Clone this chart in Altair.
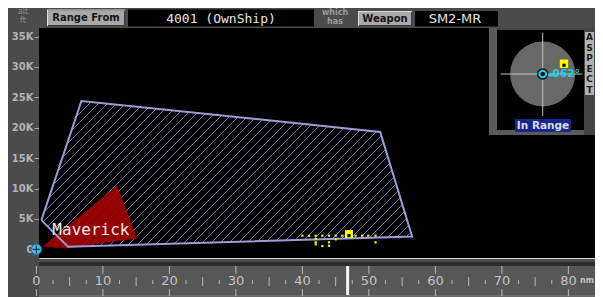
import altair as alt
import pandas as pd

# ---------------- data ----------------
env_nm = [0.75, 6.77, 51.7, 56.5, 4.75]          # launch envelope (nm)
env_alt = [4.8, 24.4, 19.3, 2.1, 0.43]           # launch envelope (K ft)

mav_nm = [1.0, 12.1, 15.1, 4.5]                  # Maverick envelope
mav_alt = [0.46, 10.4, 1.83, 0.2]
mav_label = ["Maverick"]
mav_label_nm = [2.4]
mav_label_alt = [2.35]

track_nm = [40.0, 41.0, 42.0, 43.0, 44.0, 45.0, 46.0, 48.0, 49.0, 49.9, 51.0,
            42.0, 42.0, 42.0, 43.0, 44.0, 44.0, 45.0, 51.0]
track_alt = [2.24, 2.24, 2.24, 2.24, 2.24, 2.24, 2.24, 2.24, 2.24, 2.24, 2.24,
             1.69, 1.15, 0.82, 0.54, 1.15, 0.59, 1.64, 1.15]
target_nm = [47.0]
target_alt = [2.5]
ownship_nm = [0.0]
ownship_alt = [0.0]
range_cursor_nm = [46.8]

y_ticks = [0, 5, 10, 15, 20, 25, 30, 35]
x_major = [0, 10, 20, 30, 40, 50, 60, 70, 80]
x_major_labels = ["0", "10", "20", "30", "40", "50", "60", "70", "80"]
x_mid = [5, 15, 25, 35, 45, 55, 65, 75]
x_minor = [2.5, 7.5, 12.5, 17.5, 22.5, 27.5, 32.5, 37.5, 42.5, 47.5,
           52.5, 57.5, 62.5, 67.5, 72.5, 77.5]

aspect_label = ["062°"]
inset_target_dx = [0.58]
inset_target_dy = [0.28]

range_from = "4001 (OwnShip)"
weapon = "SM2-MR"

# ---------------- layout ----------------
PL, PT = 39, 28          # page position of plot origin
W, H = 556, 230          # canvas ends at page x 595 (no horizontal overflow)
XD = [0.39, 84.0]
YD = [-1.43, 36.4]
RIGHT = PL + W

xs = alt.Scale(domain=XD, zero=False, nice=False)
ys = alt.Scale(domain=YD, zero=False, nice=False)

one = pd.DataFrame({"k": [0]})


def box(x1, y1, x2, y2, fill, **kw):
    return alt.Chart(one).mark_rect(fill=fill, strokeWidth=0, **kw).encode(
        x=alt.value(x1 - PL), x2=alt.value(x2 - PL),
        y=alt.value(y1 - PT), y2=alt.value(y2 - PT))


def txt(s, x, y, size, color, weight="normal", font="DejaVu Sans", align="center"):
    return alt.Chart(one).mark_text(
        text=s, fontSize=size, color=color, fontWeight=weight, font=font,
        align=align, baseline="middle").encode(x=alt.value(x - PL), y=alt.value(y - PT))


def button(x1, y1, x2, y2, label):
    return [box(x1, y1, x2, y2, "#dcdcdc"),
            box(x1 + 1, y1 + 1, x2, y2, "#3a3a3a"),
            box(x1 + 1, y1 + 1, x2 - 1, y2 - 1, "#a9a9a9"),
            txt(label, (x1 + x2) / 2, (y1 + y2) / 2 + 0.5, 10, "#151515", "bold")]


# pixel helpers for hatch geometry
def to_px(nm, a):
    return ((nm - XD[0]) * W / (XD[1] - XD[0]), (YD[1] - a) * H / (YD[1] - YD[0]))


def to_data(px, py):
    return (XD[0] + px * (XD[1] - XD[0]) / W, YD[1] - py * (YD[1] - YD[0]) / H)


poly_px = [to_px(n, a) for n, a in zip(env_nm, env_alt)]
sums = [p[0] + p[1] for p in poly_px]
hatch_rows = []
c = (int(min(sums) // 9) + 1) * 9
seg = 0
while c < max(sums):
    pts = []
    for i in range(len(poly_px)):
        p1 = poly_px[i]
        p2 = poly_px[(i + 1) % len(poly_px)]
        f1 = p1[0] + p1[1] - c
        f2 = p2[0] + p2[1] - c
        if f1 * f2 < 0:
            t = f1 / (f1 - f2)
            pts.append((p1[0] + t * (p2[0] - p1[0]), p1[1] + t * (p2[1] - p1[1])))
    if len(pts) == 2:
        for j, p in enumerate(pts):
            n, a = to_data(*p)
            hatch_rows.append({"nm": n, "alt": a, "seg": seg, "o": j})
        seg += 1
    c += 9
hatch_df = pd.DataFrame(hatch_rows)

env_df = pd.DataFrame({"nm": env_nm + env_nm[:1], "alt": env_alt + env_alt[:1],
                       "i": list(range(len(env_nm) + 1))})
mav_df = pd.DataFrame({"nm": mav_nm + mav_nm[:1], "alt": mav_alt + mav_alt[:1],
                       "i": list(range(len(mav_nm) + 1))})

X = alt.X("nm:Q", scale=xs, axis=None)
Y = alt.Y("alt:Q", scale=ys, axis=alt.Axis(
    values=y_ticks, title=None, grid=False,
    labelExpr="datum.value == 0 ? '0' : datum.value + 'K'",
    labelFont="DejaVu Sans", labelFontWeight="bold", labelFontSize=10,
    labelColor="#b4b4b4", labelPadding=1, tickColor="#a8a8a8", tickSize=5,
    domainColor="#8a8a8a", domainDash=[1, 2], domainWidth=1, labelOverlap=False))

layers = [box(PL, PT, RIGHT, PT + H, "#000000")]
layers.append(alt.Chart(hatch_df).mark_line(color="#7676b0", strokeWidth=1).encode(
    x=X, y=Y, detail="seg:N", order="o:Q"))
layers.append(alt.Chart(mav_df).mark_line(fill="#a00000", color="#a00000", strokeWidth=0.5,
                                          fillOpacity=0.92).encode(x=X, y=Y, order="i:Q"))
layers.append(alt.Chart(env_df).mark_line(color="#9c9cd6", strokeWidth=2).encode(
    x=X, y=Y, order="i:Q"))
layers.append(alt.Chart(pd.DataFrame({"nm": mav_label_nm, "alt": mav_label_alt, "t": mav_label}))
              .mark_text(align="left", baseline="alphabetic", font="DejaVu Sans Mono",
                         fontSize=16, color="#ececec").encode(x=X, y=Y, text="t:N"))
layers.append(alt.Chart(pd.DataFrame({"nm": track_nm, "alt": track_alt}))
              .mark_square(size=5, color="#f0f000", opacity=1).encode(x=X, y=Y))
tdf = pd.DataFrame({"nm": target_nm, "alt": target_alt})
layers.append(alt.Chart(tdf).mark_square(size=64, color="#ffff00", opacity=1).encode(x=X, y=Y))
layers.append(alt.Chart(tdf).mark_square(size=10, color="#000000", opacity=1, yOffset=1.5).encode(x=X, y=Y))
odf = pd.DataFrame({"nm": ownship_nm, "alt": ownship_alt})
layers.append(alt.Chart(odf).mark_point(shape="circle", size=110, filled=True, fill="#4ab6ea",
                                        stroke="#1d6f9c", strokeWidth=1, opacity=1).encode(x=X, y=Y))
layers.append(alt.Chart(odf).mark_point(shape="M-1,0L1,0M0,-1L0,1", size=60, filled=False,
                                        stroke="#103a58", strokeWidth=1.2, opacity=1).encode(x=X, y=Y))

# ---- header bar ----
layers += [txt("alt", 23, 12, 8, "#8c8c8c"), txt("ft", 23, 20.5, 8, "#8c8c8c")]
layers += button(47, 9.5, 125, 26, "Range From")
layers += [box(128, 9.5, 314, 26.5, "#000000"),
           txt(range_from, 221, 18.5, 13, "#e6e6e6", font="DejaVu Sans Mono")]
layers += [txt("which", 335, 12.5, 8, "#9a9a9a", "bold"), txt("has", 335, 21.5, 8, "#9a9a9a", "bold")]
layers += button(358, 11, 412, 26, "Weapon")
layers += [box(415, 11, 498, 26.5, "#000000"), txt(weapon, 455, 19, 13, "#e6e6e6")]

# ---- range bar ----
layers += [box(39, 262, RIGHT, 266, "#2c2c2c"), box(39, 266, RIGHT, 295, "#575757"),
           box(39, 295, RIGHT, 297, "#6c6c6c")]
RB = 28  # shift between page and plot y
layers.append(alt.Chart(pd.DataFrame({"nm": x_major})).mark_rule(color="#b8b8b8", strokeWidth=1).encode(
    x=X, y=alt.value(266 - RB), y2=alt.value(274 - RB)))
layers.append(alt.Chart(pd.DataFrame({"nm": x_major})).mark_rule(color="#b8b8b8", strokeWidth=1).encode(
    x=X, y=alt.value(289 - RB), y2=alt.value(296 - RB)))
layers.append(alt.Chart(pd.DataFrame({"nm": x_mid})).mark_rule(color="#b8b8b8", strokeWidth=1).encode(
    x=X, y=alt.value(277 - RB), y2=alt.value(286 - RB)))
layers.append(alt.Chart(pd.DataFrame({"nm": x_minor})).mark_rule(color="#b8b8b8", strokeWidth=1).encode(
    x=X, y=alt.value(280 - RB), y2=alt.value(284 - RB)))
layers.append(alt.Chart(pd.DataFrame({"nm": x_major, "t": x_major_labels})).mark_text(
    fontSize=13, color="#c4c4c4", font="DejaVu Sans", baseline="middle").encode(
    x=X, y=alt.value(281 - RB), text="t:N"))
layers.append(txt("nm", 594, 281, 8, "#c4c4c4", "bold", align="right"))
layers.append(alt.Chart(pd.DataFrame({"nm": range_cursor_nm})).mark_rule(color="#f4f4f4", strokeWidth=3).encode(
    x=X, y=alt.value(266 - RB), y2=alt.value(295 - RB)))

# ---- inset frame ----
layers += [box(489, 28, RIGHT, 135, "#444444"), box(489, 28, 497, 135, "#5a5a5a"),
           box(489, 130, 584, 135, "#5a5a5a"), box(497, 30, 584, 130, "#000000"),
           box(585, 32, 594, 95, "#b2b2b2")]
for k, ch in enumerate("ASPECT"):
    layers.append(txt(ch, 589.5, 37 + 10.5 * k, 9, "#1a1a1a", "bold"))

main = alt.layer(*layers)

# ---------------- inset (aspect) ----------------
CX, CY, R = 542.7, 74.0, 36.7   # page position / radius of the aspect dial
ix = alt.Scale(domain=[-(CX - PL) / R, (RIGHT - CX) / R], zero=False, nice=False)
iy = alt.Scale(domain=[-(PT + H - CY) / R, (CY - PT) / R], zero=False, nice=False)
IX = alt.X("x:Q", scale=ix, axis=None)
IY = alt.Y("y:Q", scale=iy, axis=None)
ctr = pd.DataFrame({"x": [0.0], "y": [0.0]})
inset = []
inset.append(alt.Chart(ctr).mark_point(shape="circle", size=4231, filled=True, color="#686868",
                                       opacity=1).encode(x=IX, y=IY))
inset.append(alt.Chart(pd.DataFrame({"x": [-1.144], "x2": [1.08], "y": [0.0]})).mark_rule(
    color="#c4c4c4", strokeWidth=1).encode(x=IX, x2="x2:Q", y=IY))
inset.append(alt.Chart(pd.DataFrame({"x": [0.0], "y": [1.125], "y2": [-1.144]})).mark_rule(
    color="#c4c4c4", strokeWidth=1).encode(x=IX, y=IY, y2="y2:Q"))
inset.append(alt.Chart(pd.DataFrame({"x": [0.0, 0.36], "y": [-0.03, -0.03]})).mark_line(
    color="#22d0e0", strokeWidth=2.5).encode(x=IX, y=IY))
inset.append(alt.Chart(ctr).mark_point(shape="circle", size=130, filled=True, color="#101010",
                                       opacity=1).encode(x=IX, y=IY))
inset.append(alt.Chart(ctr).mark_point(shape="circle", size=45, filled=False, stroke="#22d0e0",
                                       strokeWidth=2, opacity=1).encode(x=IX, y=IY))
inset.append(alt.Chart(pd.DataFrame({"x": [0.27], "y": [0.0], "t": aspect_label})).mark_text(
    align="left", baseline="middle", fontSize=10.5, fontWeight="bold", font="DejaVu Sans",
    color="#22d0e0").encode(x=IX, y=IY, text="t:N"))
itd = pd.DataFrame({"x": inset_target_dx, "y": inset_target_dy})
inset.append(alt.Chart(itd).mark_square(size=70, color="#ffff00", opacity=1).encode(x=IX, y=IY))
inset.append(alt.Chart(itd).mark_square(size=10, color="#000000", opacity=1, yOffset=1.5).encode(x=IX, y=IY))
inset.append(box(515, 119, 571, 132, "#16268a"))
inset.append(txt("In Range", 543, 125.5, 10.5, "#dadada", "bold"))
inset_layer = alt.layer(*inset)

chart = alt.layer(main, inset_layer).resolve_scale(x="independent", y="independent").properties(
    width=W, height=H,
    padding={"left": PL - 8, "top": PT - 8, "right": 0, "bottom": 297 - (PT + H)},
    autosize=alt.AutoSizeParams(type="none"),
).configure_view(fill="#000000", strokeWidth=0).configure(background="#4b4b4b")

chart.save("out.html", embed_options={"renderer": "svg", "actions": False})
